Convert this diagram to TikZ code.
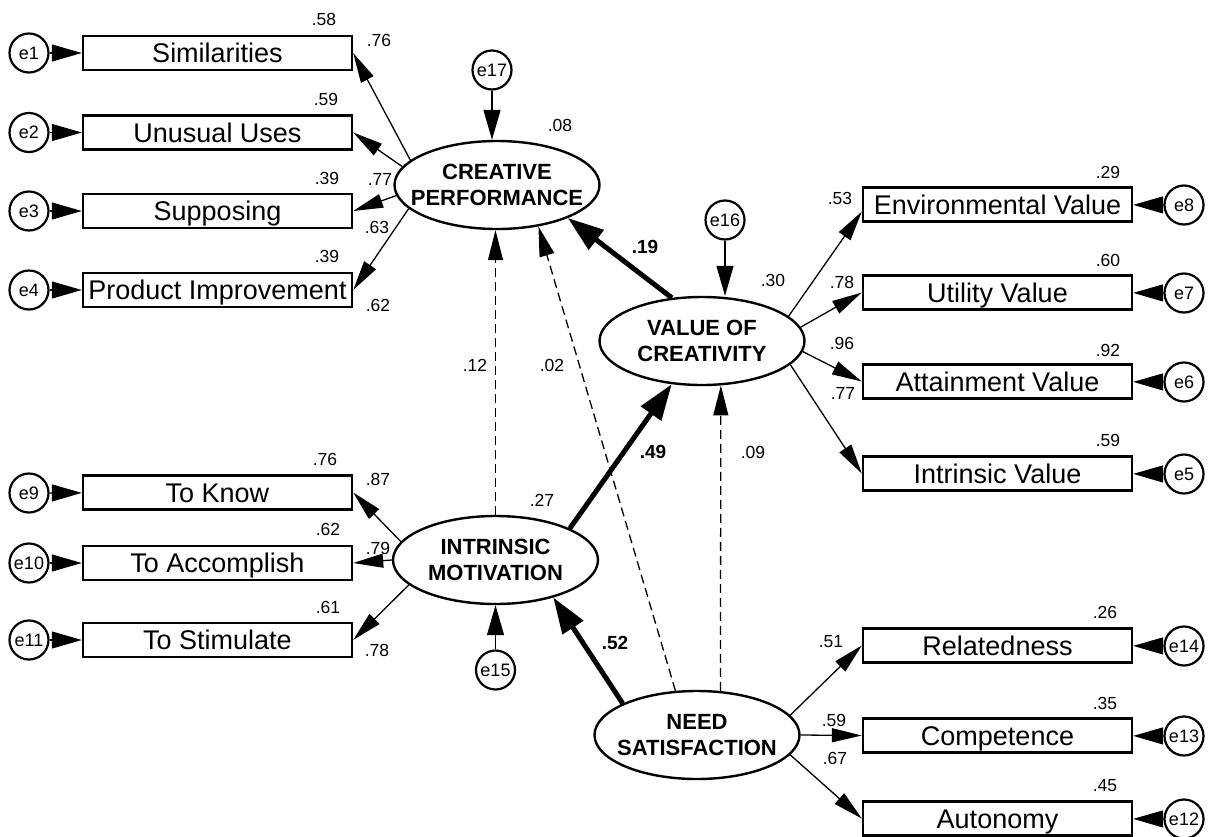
\documentclass[tikz,border=0pt]{standalone}
\usepackage{fontspec}
\setmainfont{Liberation Sans}
\usetikzlibrary{arrows.meta,shapes.geometric}
\tikzset{
 obs/.style={draw, line width=2.4pt, minimum width=269pt, minimum height=34pt, inner sep=0pt, font=\fontsize{27}{30}\selectfont, text height=19.4pt, text depth=0pt},
 lat/.style={draw, ellipse, line width=2.4pt, minimum width=205pt, minimum height=88pt, inner sep=0pt},
 lattext/.style={align=center, font=\bfseries\fontsize{22}{25.5}\selectfont, inner sep=0pt},
 err/.style={draw, circle, line width=2.2pt, minimum size=39pt, inner sep=0pt, font=\fontsize{18}{18}\selectfont},
 num/.style={inner sep=0pt, font=\fontsize{17.5}{18}\selectfont},
 bnum/.style={inner sep=0pt, font=\bfseries\fontsize{19}{20}\selectfont},
 thinarr/.style={line width=1.3pt, -{Triangle[length=30pt,width=14pt]}},
 errarr/.style={line width=1.3pt, -{Triangle[length=30pt,width=17pt]}},
 thickarr/.style={line width=5pt, -{Triangle[length=36pt,width=24pt]}},
 dasharr/.style={line width=1.3pt, dash pattern=on 9pt off 5pt, -{Triangle[length=30pt,width=15pt]}},
}
\begin{document}
\begin{tikzpicture}[x=1pt,y=-1pt]
\fill[white] (0,0) rectangle (1208,836);
\useasboundingbox (0,0) rectangle (1208,836);

% ---------- Creative performance group ----------
\node[obs] (sim) at (217.5,53) {Similarities};
\node[obs] (uu) at (217.5,132.5) {Unusual Uses};
\node[obs] (sup) at (217.5,211) {Supposing};
\node[obs] (pi) at (217.5,290) {Product Improvement};
\node[err] (e1) at (29,53) {e1};
\node[err] (e2) at (29,132.5) {e2};
\node[err] (e3) at (29,211) {e3};
\node[err] (e4) at (29,290) {e4};
\node[lat] (cp) at (497,185) {};
\node[lattext] (cpt) at (cp) {CREATIVE\\PERFORMANCE};
\node[err] (e17) at (492,70) {e17};

% ---------- Value of creativity group ----------
\node[obs] (ev) at (997.5,204.5) {Environmental Value};
\node[obs] (uv) at (997.5,292.5) {Utility Value};
\node[obs] (av) at (997.5,381.5) {Attainment Value};
\node[obs] (iv) at (997.5,473.5) {Intrinsic Value};
\node[err] (e8) at (1184,205) {e8};
\node[err] (e7) at (1184,293) {e7};
\node[err] (e6) at (1184,382) {e6};
\node[err] (e5) at (1184,474) {e5};
\node[lat] (vc) at (702,341) {};
\node[lattext] (vct) at (vc) {VALUE OF\\CREATIVITY};
\node[err] (e16) at (725,220) {e16};

% ---------- Intrinsic motivation group ----------
\node[obs] (tk) at (217.5,492.5) {To Know};
\node[obs] (ta) at (217.5,563) {To Accomplish};
\node[obs] (ts) at (217.5,640) {To Stimulate};
\node[err] (e9) at (29,493) {e9};
\node[err] (e10) at (29,563) {e10};
\node[err] (e11) at (29,640) {e11};
\node[lat] (im) at (495.5,560) {};
\node[lattext] (imt) at (im) {INTRINSIC\\MOTIVATION};
\node[err] (e15) at (495.5,670) {e15};

% ---------- Need satisfaction group ----------
\node[obs] (rel) at (997.5,645.5) {Relatedness};
\node[obs] (comp) at (997.5,735.5) {Competence};
\node[obs] (aut) at (997.5,818.5) {Autonomy};
\node[err] (e14) at (1184,646) {e14};
\node[err] (e13) at (1184,736) {e13};
\node[err] (e12) at (1184,819) {e12};
\node[lat] (ns) at (697,735) {};
\node[lattext] (nst) at (ns) {NEED\\SATISFACTION};

% ---------- error arrows ----------
\foreach \e/\b in {e1/sim,e2/uu,e3/sup,e4/pi,e9/tk,e10/ta,e11/ts,e8/ev,e7/uv,e6/av,e5/iv,e14/rel,e13/comp,e12/aut}
  \draw[errarr] (\e) -- (\b);
\draw[errarr] (e17) -- (e17 |- cp.north);
\draw[errarr] (e16) -- (e16 |- vc.north);
\draw[errarr] (e15) -- (e15 |- im.south);

% ---------- loadings ----------
\draw[thinarr] (cp.164) -- (sim.east);
\draw[thinarr] (cp.169) -- (uu.east);
\draw[thinarr] (cp.186) -- (sup.east);
\draw[thinarr] (cp.195) -- (pi.east);
\draw[thinarr] (vc.16) -- (ev.183);
\draw[thinarr] (vc.8) -- (uv.west);
\draw[thinarr] (vc.-6) -- (av.west);
\draw[thinarr] (vc.-15) -- (iv.west);
\draw[thinarr] (im.169) -- (tk.east);
\draw[thinarr] (im.west) -- (ta.east);
\draw[thinarr] (im.196) -- (ts.east);
\draw[thinarr] (ns.12) -- (rel.west);
\draw[thinarr] (ns.east) -- (comp.west);
\draw[thinarr] (ns.-12) -- (aut.west);

% ---------- structural paths ----------
\draw[thickarr] (vc.125) -- (cp.-25);
\draw[thickarr] (im.23) -- (vc.235);
\draw[thickarr] (ns.157) -- (im.-33);
\draw[dasharr] (im.north) -- (im.north |- cp.south);
\draw[dasharr] (ns.116) -- (cp.-45);
\draw[dasharr] (ns.62) -- (vc.-67);

% ---------- numbers ----------
\node[num] (n1) at (324,19) {.58};
\node[num] (n2) at (379,40) {.76};
\node[num] (n3) at (326,99) {.59};
\node[num] (n4) at (327,178) {.39};
\node[num] (n5) at (380,179) {.77};
\node[num] (n6) at (377,227) {.63};
\node[num] (n7) at (327,256) {.39};
\node[num] (n8) at (378,305) {.62};
\node[num] (n9) at (560,125) {.08};
\node[num] (n10) at (773,280) {.30};
\node[bnum] (n11) at (645,247) {.19};
\node[num] (n12) at (840,198) {.53};
\node[num] (n13) at (842,282) {.78};
\node[num] (n14) at (842,343) {.96};
\node[num] (n15) at (843,393) {.77};
\node[num] (n16) at (1108,172) {.29};
\node[num] (n17) at (1108,260) {.60};
\node[num] (n18) at (1108,350) {.92};
\node[num] (n19) at (1108,440) {.59};
\node[num] (n20) at (475,365) {.12};
\node[num] (n21) at (552,365) {.02};
\node[bnum] (n22) at (653,452) {.49};
\node[num] (n23) at (753,452) {.09};
\node[num] (n24) at (542,500) {.27};
\node[num] (n25) at (325,459) {.76};
\node[num] (n26) at (378,479) {.87};
\node[num] (n27) at (328,529) {.62};
\node[num] (n28) at (378,548) {.79};
\node[num] (n29) at (328,607) {.61};
\node[num] (n30) at (377,650) {.78};
\node[bnum] (n31) at (615,643) {.52};
\node[num] (n32) at (831,642) {.51};
\node[num] (n33) at (834,720) {.59};
\node[num] (n34) at (835,758) {.67};
\node[num] (n35) at (1105,612) {.26};
\node[num] (n36) at (1105,703) {.35};
\node[num] (n37) at (1105,786) {.45};
\end{tikzpicture}
\end{document}
